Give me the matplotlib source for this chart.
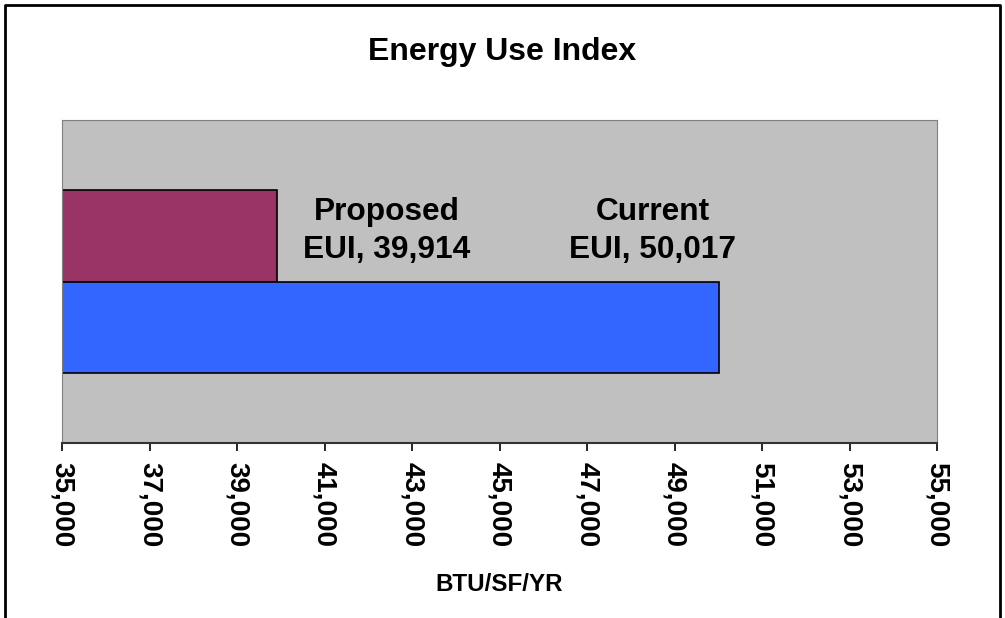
import matplotlib.pyplot as plt
from matplotlib.lines import Line2D
from matplotlib.ticker import FuncFormatter

plt.rcParams['font.family'] = ['Liberation Sans', 'DejaVu Sans']
plt.rcParams['font.weight'] = 'bold'

series = ["Proposed", "Current"]
category = "EUI"
values = [39914, 50017]
colors = ["#993366", "#3366FF"]
xticks = list(range(35000, 55001, 2000))

fig = plt.figure(figsize=(10.05, 6.18), dpi=100)
ax = fig.add_axes([62/1005, 1-443/618, 875/1005, 323/618])
ax.set_facecolor("#C0C0C0")

h = 0.2835
ypos = [h/2, -h/2]
for s, v, c, y in zip(series, values, colors, ypos):
    ax.barh(y, v - 35000, left=35000, height=h, color=c, edgecolor="black", linewidth=1.2)

# data labels (series name + category, value)
offsets = [110, -66]
for s, v, off in zip(series, values, offsets):
    ax.annotate("%s\n%s, %s" % (s, category, format(v, ",")),
                xy=(v, ypos[0]), xytext=(off, 5), textcoords="offset pixels",
                ha="center", va="center", fontsize=22.8, fontweight="bold",
                linespacing=1.35)

ax.set_xlim(35000, 55000)
ax.set_ylim(-0.5, 0.5)
ax.set_xticks(xticks)
ax.xaxis.set_major_formatter(FuncFormatter(lambda x, p: format(int(x), ",")))
ax.tick_params(axis="x", direction="out", length=6, width=1.2, labelsize=20,
               labelrotation=270, pad=8, colors="black")
ax.set_yticks([])
for sp in ["left", "top", "right"]:
    ax.spines[sp].set_color("#808080")
ax.spines["bottom"].set_color("#333333")
ax.spines["bottom"].set_linewidth(1.5)

ax.set_xlabel("BTU/SF/YR", fontsize=17.4, fontweight="bold", labelpad=18)
fig.text(0.5, 1-52/618, "Energy Use Index", ha="center", va="center",
         fontsize=23, fontweight="bold")

# chart border (bottom edge is cut off in the original)
bx = [5/1005, 5/1005, 1000/1005, 1000/1005]
by = [0, 1-5/618, 1-5/618, 0]
fig.add_artist(Line2D(bx, by, color="black", linewidth=2, transform=fig.transFigure))

fig.savefig("out.png", dpi=100)
